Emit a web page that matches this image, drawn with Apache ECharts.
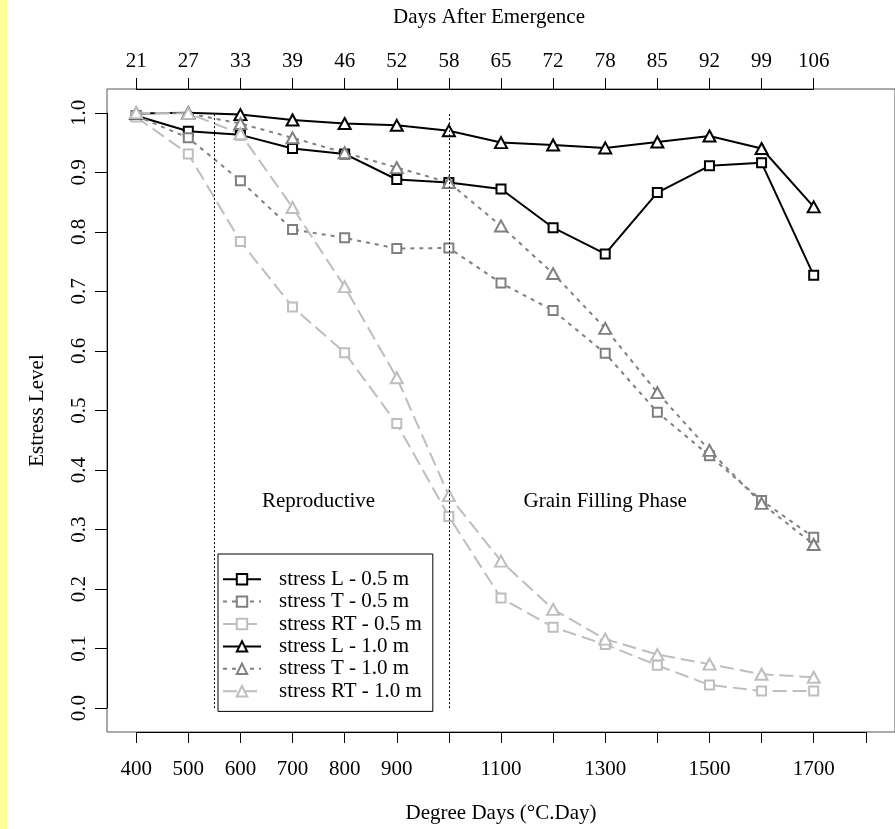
<!DOCTYPE html>
<html>
<head>
<meta charset="utf-8">
<script src="https://cdn.jsdelivr.net/npm/echarts@6/dist/echarts.min.js"></script>
<style>
html,body{margin:0;padding:0;background:#fff;}
#chart{width:895px;height:829px;}
</style>
</head>
<body>
<div id="chart"></div>
<script>
// ---- data ----
const degreeDays = [400, 500, 600, 700, 800, 900, 1000, 1100, 1200, 1300, 1400, 1500, 1600, 1700];
const daysAfterEmergence = [21, 27, 33, 39, 46, 52, 58, 65, 72, 78, 85, 92, 99, 106];
const bottomTicks = [400, 500, 600, 700, 800, 900, 1000, 1100, 1200, 1300, 1400, 1500, 1600, 1700, 1800];
const bottomLabels = [400, 500, 600, 700, 800, 900, 1100, 1300, 1500, 1700];
const yTicks = [0, 0.1, 0.2, 0.3, 0.4, 0.5, 0.6, 0.7, 0.8, 0.9, 1.0];

const stressL05  = [0.995, 0.969, 0.963, 0.940, 0.931, 0.888, 0.883, 0.872, 0.807, 0.763, 0.866, 0.911, 0.916, 0.727];
const stressT05  = [0.995, 0.958, 0.886, 0.804, 0.790, 0.772, 0.773, 0.714, 0.668, 0.596, 0.497, 0.424, 0.349, 0.287];
const stressRT05 = [0.993, 0.931, 0.784, 0.674, 0.597, 0.478, 0.322, 0.185, 0.136, 0.107, 0.072, 0.039, 0.029, 0.029];
const stressL10  = [0.999, 1.000, 0.997, 0.988, 0.982, 0.979, 0.970, 0.950, 0.946, 0.941, 0.951, 0.961, 0.940, 0.842];
const stressT10  = [1.000, 0.999, 0.982, 0.958, 0.933, 0.908, 0.883, 0.810, 0.730, 0.638, 0.530, 0.433, 0.344, 0.275];
const stressRT10 = [1.000, 0.999, 0.965, 0.841, 0.708, 0.555, 0.357, 0.247, 0.166, 0.116, 0.090, 0.074, 0.057, 0.052];

const seriesNames = ['stress L - 0.5 m', 'stress T - 0.5 m', 'stress RT - 0.5 m',
                     'stress L - 1.0 m', 'stress T - 1.0 m', 'stress RT - 1.0 m'];
const phaseBoundaries = [550, 1000];
const phaseLabels = ['Reproductive', 'Grain Filling Phase'];
const phaseLabelX = [750, 1300];
const phaseLabelY = 0.347;

// ---- styling ----
const FONT = '"Liberation Serif", "Times New Roman", serif';
const FS = 21;
const xMin = 344, xMax = 1856, yMin = -0.04, yMax = 1.04;

function mk(name, values, color, dash, symbol, size) {
  return {
    name: name,
    type: 'line',
    data: degreeDays.map((d, i) => [d, values[i]]),
    symbol: symbol,
    symbolSize: size,
    lineStyle: { color: color, width: 2, type: dash },
    itemStyle: { color: '#fff', borderColor: color, borderWidth: 2 },
    emphasis: { disabled: true },
    animation: false,
    z: 3
  };
}

const black = '#000000', grey = '#808080', light = '#bebebe';
const dotted = [4, 5], longdash = [14, 6];

const series = [
  mk(seriesNames[0], stressL05, black, 'solid', 'rect', 9),
  mk(seriesNames[1], stressT05, grey, dotted, 'rect', 9),
  mk(seriesNames[2], stressRT05, light, longdash, 'rect', 9),
  mk(seriesNames[3], stressL10, black, 'solid', 'triangle', [12, 11]),
  mk(seriesNames[4], stressT10, grey, dotted, 'triangle', [12, 11]),
  mk(seriesNames[5], stressRT10, light, longdash, 'triangle', [12, 11])
];

// phase boundaries (dotted vertical lines)
series.push({
  name: 'phases', type: 'line', data: [], silent: true, animation: false,
  markLine: {
    silent: true, symbol: 'none', animation: false,
    label: { show: false },
    lineStyle: { color: '#000', width: 1, type: [2, 2] },
    emphasis: { disabled: true },
    data: phaseBoundaries.map(b => [{ coord: [b, 0] }, { coord: [b, 1] }])
  }
});

// axis segments (R draws axis lines only between first and last tick)
series.push({
  name: 'axes', type: 'line', data: [], silent: true, animation: false, clip: false,
  markLine: {
    silent: true, symbol: 'none', animation: false,
    label: { show: false },
    lineStyle: { color: '#000', width: 1, type: 'solid' },
    emphasis: { disabled: true },
    data: [
      [{ coord: [bottomTicks[0], yMin] }, { coord: [bottomTicks[bottomTicks.length - 1], yMin] }],
      [{ coord: [degreeDays[0], yMax] }, { coord: [degreeDays[degreeDays.length - 1], yMax] }],
      [{ coord: [xMin, yTicks[0]] }, { coord: [xMin, yTicks[yTicks.length - 1]] }]
    ]
  }
});

// phase labels
series.push({
  name: 'phaseText', type: 'scatter', silent: true, animation: false,
  symbolSize: 0,
  itemStyle: { opacity: 1, color: '#000' },
  data: phaseLabels.map((t, i) => ({ name: t, value: [phaseLabelX[i], phaseLabelY] })),
  label: {
    show: true, position: 'inside', formatter: p => p.name,
    color: '#000', opacity: 1, textBorderWidth: 0, fontFamily: FONT, fontSize: FS
  },
  z: 4
});

const chart = echarts.init(document.getElementById('chart'), null, { renderer: 'canvas' });
chart.setOption({
  backgroundColor: '#ffffff',
  animation: false,
  textStyle: { fontFamily: FONT },
  grid: {
    left: 107, right: -5, top: 89, bottom: 96,
    show: true, borderColor: '#555', borderWidth: 1, backgroundColor: 'transparent'
  },
  xAxis: [
    {
      type: 'value', position: 'bottom', min: xMin, max: xMax,
      name: 'Degree Days (\u00B0C.Day)', nameLocation: 'middle', nameGap: 71,
      nameTextStyle: { color: '#000', fontFamily: FONT, fontSize: FS },
      axisLine: { show: false, onZero: false },
      axisTick: { show: true, length: 11, customValues: bottomTicks, lineStyle: { color: '#000', width: 1 } },
      axisLabel: { show: true, customValues: bottomLabels, margin: 27, color: '#000', fontFamily: FONT, fontSize: FS,
        formatter: v => String(v) },
      splitLine: { show: false }
    },
    {
      type: 'value', position: 'top', min: xMin, max: xMax,
      axisLine: { show: false, onZero: false },
      axisTick: { show: true, length: 11, customValues: degreeDays, lineStyle: { color: '#000', width: 1 } },
      axisLabel: {
        show: true, customValues: degreeDays, margin: 17, color: '#000', fontFamily: FONT, fontSize: FS,
        formatter: v => String(daysAfterEmergence[degreeDays.indexOf(v)])
      },
      splitLine: { show: false }
    }
  ],
  yAxis: {
    type: 'value', min: yMin, max: yMax,
    name: 'Estress Level', nameLocation: 'middle', nameGap: 59, nameRotate: 90,
    nameTextStyle: { color: '#000', fontFamily: FONT, fontSize: FS },
    axisLine: { show: false, onZero: false },
    axisTick: { show: true, length: 12, customValues: yTicks, lineStyle: { color: '#000', width: 1 } },
    axisLabel: {
      show: true, customValues: yTicks, rotate: 90, margin: 17, color: '#000', fontFamily: FONT, fontSize: FS,
      formatter: v => v.toFixed(1)
    },
    splitLine: { show: false }
  },
  legend: {
    data: seriesNames,
    orient: 'vertical',
    left: 218, top: 554,
    padding: [14, 11, 9, 4],
    itemWidth: 38, itemHeight: 13, itemGap: 0,
    backgroundColor: '#fff', borderColor: '#000', borderWidth: 1, borderRadius: 0,
    selectedMode: false,
    textStyle: { color: '#000', fontFamily: FONT, fontSize: FS, lineHeight: 22.4, padding: [0, 0, 0, 13] }
  },
  graphic: [
    { type: 'rect', silent: true, shape: { x: 0, y: 0, width: 7, height: 829 }, style: { fill: '#ffff99' } },
    { type: 'text', silent: true, x: 489, y: 17,
      style: { text: 'Days After Emergence', font: FS + 'px ' + FONT, fill: '#000', align: 'center', verticalAlign: 'middle' } }
  ],
  series: series
});
</script>
</body>
</html>
